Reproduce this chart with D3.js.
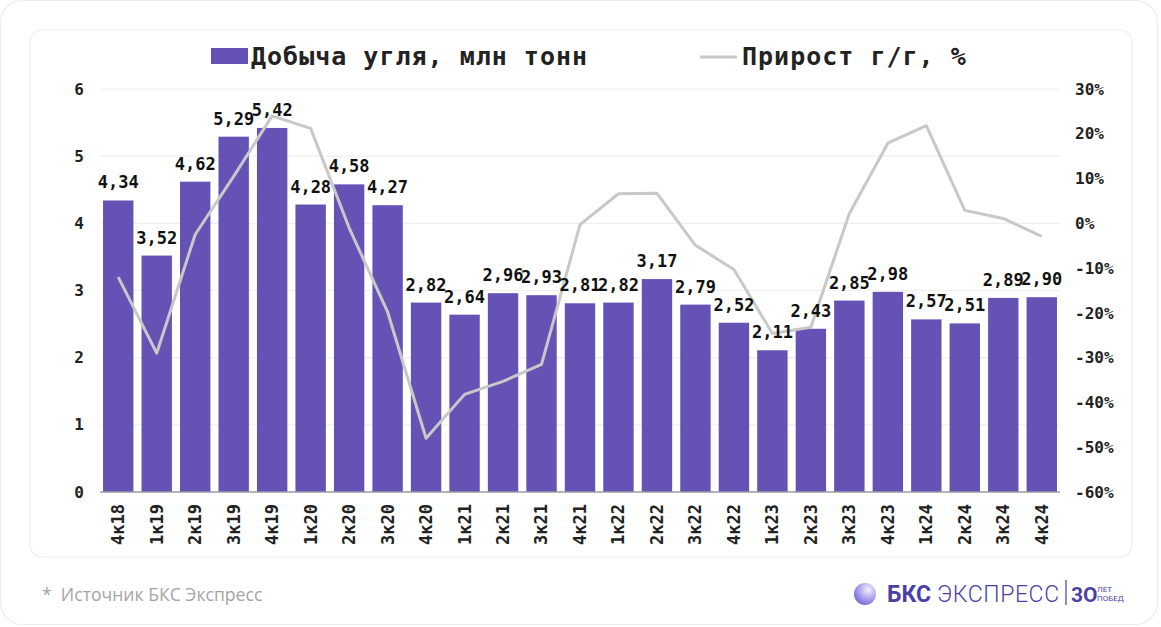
<!DOCTYPE html>
<html><head><meta charset="utf-8">
<script src="https://cdn.jsdelivr.net/npm/d3@7"></script>
<style>body{margin:0;background:#fff;} svg{display:block;}</style>
</head><body><svg id="c" width="1161" height="627"></svg>
<script>
const categories = ["4к18","1к19","2к19","3к19","4к19","1к20","2к20","3к20","4к20","1к21","2к21","3к21","4к21","1к22","2к22","3к22","4к22","1к23","2к23","3к23","4к23","1к24","2к24","3к24","4к24"];
const production = [4.34,3.52,4.62,5.29,5.42,4.28,4.58,4.27,2.82,2.64,2.96,2.93,2.81,2.82,3.17,2.79,2.52,2.11,2.43,2.85,2.98,2.57,2.51,2.89,2.90];
const growth = [-12,-29,-2.5,10.5,24,21.2,-1,-19.8,-48,-38.2,-35.3,-31.5,-0.3,6.6,6.7,-4.9,-10.3,-24.6,-23.2,2.2,17.9,21.8,2.9,1.1,-2.9];
const leftTicks = [0,1,2,3,4,5,6];
const rightTicks = [30,20,10,0,-10,-20,-30,-40,-50,-60];
const legendLabels = ["Добыча угля, млн тонн","Прирост г/г, %"];
const sourceText = "*  Источник БКС Экспресс";

const mono = "'DejaVu Sans Mono', monospace";
const barColor = "#6651b5";
const lineColor = "#c8c8c8";
const svg = d3.select("#c");

// cards
svg.append("rect").attr("x",0.5).attr("y",0.5).attr("width",1157).attr("height",624).attr("rx",22)
  .attr("fill","#fff").attr("stroke","#ececec").attr("stroke-width",1.2);
svg.append("rect").attr("x",30).attr("y",30).attr("width",1102).attr("height",527).attr("rx",12)
  .attr("fill","#fff").attr("stroke","#eeeeee").attr("stroke-width",1.2);

const x = d3.scaleBand().domain(categories).range([99,1061]).paddingInner(0.21).paddingOuter(0.105);
const y = d3.scaleLinear().domain([0,6]).range([492,89]);
const y2 = d3.scaleLinear().domain([-60,30]).range([492,89]);

// grid
svg.append("g").selectAll("line").data(leftTicks.filter(d=>d>0)).join("line")
  .attr("x1",100).attr("x2",1060).attr("y1",d=>y(d)).attr("y2",d=>y(d))
  .attr("stroke","#f0f0f0").attr("stroke-width",1.2);

// left axis
const la = svg.append("g").attr("transform","translate(96,0)")
  .call(d3.axisLeft(y).tickValues(leftTicks).tickSize(0).tickPadding(12).tickFormat(d3.format("d")));
la.select(".domain").remove();
la.selectAll("text").attr("font-family",mono).attr("font-size",16).attr("font-weight","bold").attr("fill","#222");

// right axis
const ra = svg.append("g").attr("transform","translate(1063,0)")
  .call(d3.axisRight(y2).tickValues(rightTicks).tickSize(0).tickPadding(12).tickFormat(d=>d+"%"));
ra.select(".domain").remove();
ra.selectAll("text").attr("font-family",mono).attr("font-size",16).attr("font-weight","bold").attr("fill","#222");

// bars
svg.append("g").selectAll("rect").data(production).join("rect")
  .attr("x",(d,i)=>x(categories[i])).attr("width",x.bandwidth())
  .attr("y",d=>y(d)).attr("height",d=>y(0)-y(d)).attr("fill",barColor);

// baseline
svg.append("line").attr("x1",100).attr("x2",1060).attr("y1",y(0)).attr("y2",y(0))
  .attr("stroke","#9a9aa6").attr("stroke-width",1.5);

// x axis
const xa = svg.append("g").attr("transform",`translate(0,${y(0)})`)
  .call(d3.axisBottom(x).tickSize(0).tickPadding(0));
xa.select(".domain").remove();
xa.selectAll("text").attr("font-family",mono).attr("font-size",17).attr("font-weight","bold").attr("fill","#222")
  .attr("transform","rotate(-90)").attr("text-anchor","end").attr("dx","-12").attr("dy","0.35em").attr("y",0).attr("x",0);

// line
const line = d3.line().x((d,i)=>x(categories[i])+x.bandwidth()/2).y(d=>y2(d));
svg.append("path").datum(growth).attr("d",line).attr("fill","none")
  .attr("stroke",lineColor).attr("stroke-width",3).attr("stroke-linejoin","round");

// bar labels
svg.append("g").selectAll("text").data(production).join("text")
  .attr("x",(d,i)=>x(categories[i])+x.bandwidth()/2).attr("y",d=>y(d)-12)
  .attr("text-anchor","middle").attr("font-family",mono).attr("font-size",17).attr("font-weight","bold").attr("fill","#111")
  .text(d=>d3.format(".2f")(d).replace(".",","));

// legend
const lg = svg.append("g");
lg.append("rect").attr("x",211).attr("y",48).attr("width",37).attr("height",16).attr("fill",barColor);
lg.append("text").attr("x",251).attr("y",65).attr("font-family",mono).attr("font-size",25).attr("font-weight","bold")
  .attr("letter-spacing",1).attr("fill","#222").text(legendLabels[0]);
lg.append("line").attr("x1",700).attr("x2",737).attr("y1",57).attr("y2",57).attr("stroke",lineColor).attr("stroke-width",3);
lg.append("text").attr("x",742).attr("y",65).attr("font-family",mono).attr("font-size",25).attr("font-weight","bold")
  .attr("letter-spacing",1).attr("fill","#222").text(legendLabels[1]);

// footer
svg.append("text").attr("x",42).attr("y",601).attr("font-family","'Open Sans', sans-serif").attr("font-size",17.6)
  .attr("fill","#a5a5a5").style("white-space","pre").text(sourceText);

// logo
const defs = svg.append("defs");
const g = defs.append("radialGradient").attr("id","lg1").attr("cx","65%").attr("cy","30%").attr("r","80%");
g.append("stop").attr("offset","0%").attr("stop-color","#f4f2ff");
g.append("stop").attr("offset","45%").attr("stop-color","#b7aef0");
g.append("stop").attr("offset","100%").attr("stop-color","#6a5fd6");
svg.append("circle").attr("cx",865).attr("cy",594).attr("r",11).attr("fill","url(#lg1)");
svg.append("text").attr("x",887).attr("y",602).attr("font-family","Roboto, sans-serif").attr("font-size",23)
  .attr("font-weight","bold").attr("fill","#4b3fa6").text("БКС");
svg.append("text").attr("x",937).attr("y",602).attr("font-family","Roboto, sans-serif").attr("font-size",23)
  .attr("font-weight","300").attr("letter-spacing",0.6).attr("fill","#4b3fa6").text("ЭКСПРЕСС");
svg.append("line").attr("x1",1066).attr("x2",1066).attr("y1",580).attr("y2",605).attr("stroke","#4b3fa6").attr("stroke-width",1.2);
svg.append("text").attr("x",1071).attr("y",602).attr("font-family","Roboto, sans-serif").attr("font-size",21)
  .attr("font-weight","bold").attr("fill","#4b3fa6").text("3О");
svg.append("text").attr("x",1097).attr("y",592).attr("font-family","Roboto, sans-serif").attr("font-size",8)
  .attr("fill","#4b3fa6").text("ЛЕТ");
svg.append("text").attr("x",1097).attr("y",601).attr("font-family","Roboto, sans-serif").attr("font-size",8)
  .attr("fill","#4b3fa6").text("ПОБЕД");
</script></body></html>
